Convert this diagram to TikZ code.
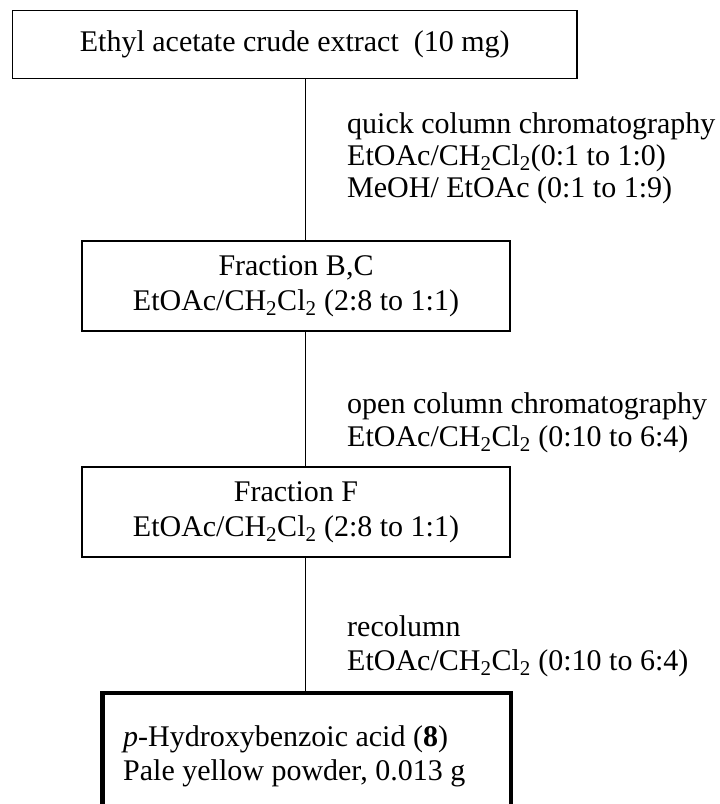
\documentclass[tikz,border=0pt]{standalone}
\usepackage{fontspec}
\setmainfont{Liberation Serif}
\newcommand{\dcm}{CH\textsubscript{2}Cl\textsubscript{2}}
\begin{document}
\begin{tikzpicture}[x=1pt,y=-1pt,
  txt/.style={font=\fontsize{30}{35}\selectfont},
  box/.style={draw, line width=1.3pt, inner sep=0pt, align=center, txt},
  finalbox/.style={draw, line width=4.5pt, inner sep=0pt},
  lbl/.style={anchor=base west, inner sep=0pt, txt},
  conn/.style={line width=1.3pt}]
\useasboundingbox (0,0) rectangle (720,804);
\clip (0,0) rectangle (720,804);
\coordinate (axis) at (305.7,0);
\node[box, minimum width=564.5pt, minimum height=68pt] (b1) at (294.75,44.5)
  {Ethyl acetate crude extract\ \ (10 mg)};
\node[box, minimum width=428pt, minimum height=90pt] (b2) at (296,286)
  {Fraction B,C\\EtOAc/\dcm\ (2:8 to 1:1)};
\node[box, minimum width=428pt, minimum height=90pt] (b3) at (296,512)
  {Fraction F\\EtOAc/\dcm\ (2:8 to 1:1)};
\node[finalbox, minimum width=408.5pt, minimum height=120pt] (b4) at (306.5,753) {};
\node[lbl] (t4a) at (123,746) {\textit{p}-Hydroxybenzoic acid (\textbf{8})};
\node[lbl] (t4b) at (123,780) {Pale yellow powder, 0.013 g};
\draw[conn] (b1.south -| axis) -- (b2.north -| axis);
\draw[conn] (b2.south -| axis) -- (b3.north -| axis);
\draw[conn] (b3.south -| axis) -- (b4.north -| axis);
\node[lbl] (l1a) at (347,133) {quick column chromatography};
\node[lbl] (l1b) at (347,165) {EtOAc/\dcm(0:1 to 1:0)};
\node[lbl] (l1c) at (347,197) {MeOH/ EtOAc (0:1 to 1:9)};
\node[lbl] (l2a) at (347,413) {open column chromatography};
\node[lbl] (l2b) at (347,446) {EtOAc/\dcm\ (0:10 to 6:4)};
\node[lbl] (l3a) at (347,636) {recolumn};
\node[lbl] (l3b) at (347,670) {EtOAc/\dcm\ (0:10 to 6:4)};
\end{tikzpicture}
\end{document}
